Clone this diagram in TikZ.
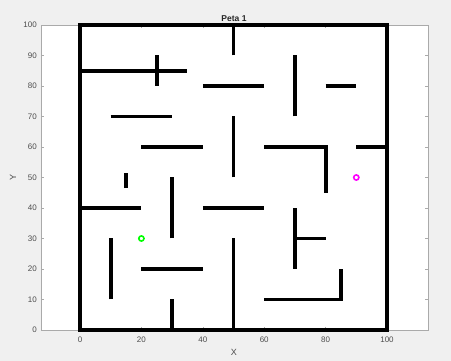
\documentclass[tikz,border=0pt]{standalone}
\usepackage{fontspec}
\setmainfont{Liberation Sans}
\definecolor{figbg}{HTML}{F0F0F0}
\definecolor{axgray}{HTML}{AAAAAA}
\definecolor{labgray}{HTML}{4D4D4D}
\definecolor{mgreen}{HTML}{00FF00}
\definecolor{mmagenta}{HTML}{FF00FF}
\begin{document}
\begin{tikzpicture}[x=1pt,y=1pt,
  wall/.style={line width=3.8pt, line cap=butt, black},
  outerwall/.style={line width=4.4pt, black, line join=miter},
  axisline/.style={axgray, line width=0.6pt},
  ticklab/.style={font=\fontsize{8}{9}\selectfont, text=labgray, inner sep=0pt},
  titlelab/.style={font=\bfseries\fontsize{8.5}{10}\selectfont, text=black!85, inner sep=0pt},
  axlab/.style={font=\fontsize{9}{10}\selectfont, text=labgray, inner sep=0pt},
  marker/.style={circle, line width=1.6pt, minimum size=5.2pt, inner sep=0pt, fill=white}]
\fill[figbg] (0,0) rectangle (451,361);
\useasboundingbox (0,0) rectangle (451,361);
% axes area
\fill[white] (41,31) rectangle (428,336);
\draw[axisline] (41,31) rectangle (428,336);
% y ticks
\foreach \v in {0,10,...,100}{
  \draw[axisline] (41,{31+3.05*\v}) -- ++(3,0);
  \draw[axisline] (428,{31+3.05*\v}) -- ++(-3,0);
  \node[ticklab, anchor=east] (yt\v) at (37,{31+3.05*\v}) {\v};
}
% x ticks
\foreach \v in {0,20,...,100}{
  \draw[axisline] ({80+3.07*\v},31) -- ++(0,3);
  \draw[axisline] ({80+3.07*\v},336) -- ++(0,-3);
  \node[ticklab] (xt\v) at ({80+3.07*\v},21) {\v};
}
\node[titlelab] (title) at (234,342) {Peta 1};
\node[axlab] (xlab) at (234,8.5) {X};
\node[axlab, rotate=90] (ylab) at (13,183) {Y};
% maze in data coordinates
\begin{scope}[shift={(80pt,31pt)}, x=3.07pt, y=3.05pt]
  \draw[outerwall] (0,0) rectangle (100,100);
  \draw[wall] (0,85) -- (35,85);
  \draw[wall] (25,80) -- (25,90);
  \draw[wall] (50,90) -- (50,100);
  \draw[wall] (40,80) -- (60,80);
  \draw[wall] (70,70) -- (70,90);
  \draw[wall] (80,80) -- (90,80);
  \draw[wall] (10,70) -- (30,70);
  \draw[wall] (20,60) -- (40,60);
  \draw[wall] (50,50) -- (50,70);
  \draw[wall, line join=miter] (60,60) -- (80,60) -- (80,45);
  \draw[wall] (90,60) -- (100,60);
  \draw[wall] (15,46.5) -- (15,51.5);
  \draw[wall] (0,40) -- (20,40);
  \draw[wall] (30,30) -- (30,50);
  \draw[wall] (40,40) -- (60,40);
  \draw[wall] (70,20) -- (70,40);
  \draw[wall] (70,30) -- (80,30);
  \draw[wall] (10,10) -- (10,30);
  \draw[wall] (20,20) -- (40,20);
  \draw[wall] (50,0) -- (50,30);
  \draw[wall] (30,0) -- (30,10);
  \draw[wall, line join=miter] (60,10) -- (85,10) -- (85,20);
  \node[marker, draw=mgreen] (start) at (20,30) {};
  \node[marker, draw=mmagenta] (goal) at (90,50) {};
\end{scope}
\end{tikzpicture}
\end{document}
